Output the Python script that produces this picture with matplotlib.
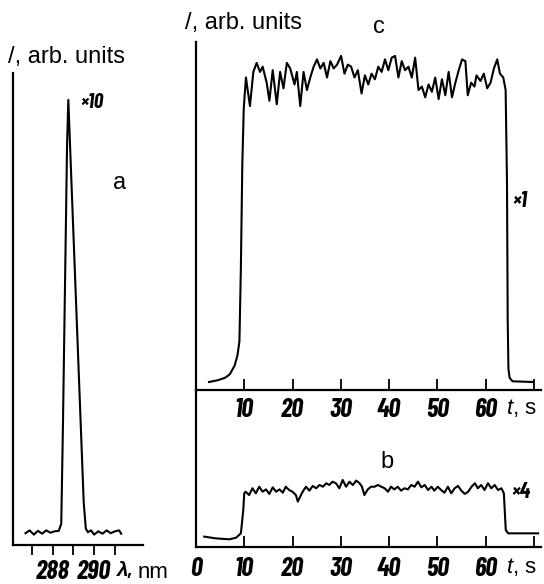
import matplotlib
matplotlib.use("Agg")
import matplotlib.pyplot as plt

plt.rcParams["font.family"] = ["Liberation Sans", "DejaVu Sans"]
plt.rcParams["mathtext.fontset"] = "custom"
plt.rcParams["mathtext.rm"] = "Liberation Sans"
plt.rcParams["mathtext.it"] = "Liberation Sans:italic"

NUM_FONT = ["Barlow Condensed", "Liberation Sans", "DejaVu Sans"]

# (a) emission line, wavelength in nm
lam = [286.7, 286.9, 287.1, 287.3, 287.5, 287.7, 287.9, 288.1, 288.3, 288.42,
       288.5, 288.6, 288.7, 288.76, 288.9, 289.1, 289.3, 289.5, 289.6, 289.7,
       289.85, 290.0, 290.2, 290.4, 290.6, 290.8, 291.0, 291.2, 291.3]
spec = [0.025, 0.031, 0.022, 0.030, 0.024, 0.031, 0.026, 0.029, 0.030, 0.045,
        0.25, 0.55, 0.85, 0.943, 0.78, 0.55, 0.32, 0.09, 0.035, 0.027,
        0.031, 0.022, 0.029, 0.024, 0.031, 0.025, 0.029, 0.031, 0.024]

# (c) time trace, x1
t_c = [2.7, 4.5, 6.0, 7.0, 8.0, 8.6, 9.0, 9.3, 9.6, 9.9,
       10.35, 11.18, 11.88, 12.57, 13.27, 13.82, 14.65, 15.21, 15.90, 16.74,
       17.43, 18.13, 18.82, 19.52, 20.42, 20.90, 21.60, 22.29, 22.99, 23.68,
       24.38, 25.07, 25.77, 26.46, 27.15, 27.85, 28.54, 29.24, 30.07, 30.77,
       31.46, 32.15, 32.85, 33.54, 34.31, 35.00, 35.70, 36.39, 37.08, 37.78,
       38.47, 39.17, 39.86, 40.56, 41.25, 41.95, 42.64, 43.33, 44.03, 44.72,
       45.42, 46.11, 46.81, 47.50, 48.20, 48.89, 49.58, 50.28, 50.97, 51.67,
       52.36, 53.06, 53.75, 54.45, 55.14, 55.83, 56.32, 57.02, 57.71, 58.13,
       58.96, 59.65, 60.35, 61.04, 61.74, 62.43, 62.99, 63.68, 64.17,
       64.45, 64.6, 64.75, 65.0, 65.6, 69.8]
i_c = [0.023, 0.028, 0.035, 0.045, 0.07, 0.10, 0.14, 0.35, 0.65, 0.81,
       0.898, 0.816, 0.914, 0.940, 0.914, 0.929, 0.883, 0.831, 0.919, 0.821,
       0.914, 0.867, 0.940, 0.924, 0.878, 0.914, 0.816, 0.914, 0.862, 0.898,
       0.929, 0.950, 0.924, 0.940, 0.898, 0.945, 0.924, 0.935, 0.960, 0.909,
       0.935, 0.929, 0.898, 0.919, 0.852, 0.904, 0.878, 0.909, 0.893, 0.929,
       0.914, 0.950, 0.919, 0.955, 0.960, 0.898, 0.945, 0.919, 0.929, 0.898,
       0.955, 0.862, 0.872, 0.841, 0.878, 0.857, 0.898, 0.836, 0.893, 0.847,
       0.914, 0.841, 0.883, 0.919, 0.950, 0.945, 0.847, 0.883, 0.872, 0.904,
       0.888, 0.909, 0.867, 0.883, 0.924, 0.950, 0.909, 0.898, 0.862,
       0.60, 0.20, 0.06, 0.035, 0.025, 0.023]

# (b) time trace, x4
t_b = [1.7, 4.1, 6.9, 8.3, 9.3, 9.8, 10.0,
       10.3, 11.0, 11.7, 12.4, 13.1, 13.8, 14.5, 15.2, 15.9, 16.6, 17.3, 18.0,
       18.6, 19.3, 20.0, 20.7, 21.1, 21.6, 22.1, 22.8, 23.5, 24.2, 24.9, 25.6,
       26.3, 27.0, 27.6, 28.3, 29.0, 29.7, 30.4, 31.1, 31.8, 32.5, 33.2, 33.9,
       34.4, 34.9, 35.6, 36.3, 37.0, 37.7, 38.4, 39.1, 39.8, 40.4, 41.1, 41.8,
       42.5, 43.2, 43.9, 44.6, 45.3, 46.0, 46.7, 47.4, 48.1, 48.8, 49.4, 50.1,
       50.8, 51.5, 52.2, 52.9, 53.6, 54.3, 55.0, 55.7, 56.4, 57.1, 57.8, 58.4,
       59.1, 59.8, 60.5, 61.2, 61.9, 62.6, 63.3, 63.8, 64.2, 64.7, 65.7, 70.9]
i_b = [0.066, 0.055, 0.049, 0.059, 0.087, 0.236, 0.342,
       0.352, 0.331, 0.374, 0.342, 0.384, 0.352, 0.367, 0.338, 0.380, 0.352, 0.367, 0.346,
       0.384, 0.363, 0.352, 0.331, 0.289, 0.321, 0.352, 0.384, 0.359, 0.389, 0.374, 0.395,
       0.384, 0.406, 0.395, 0.416, 0.406, 0.374, 0.427, 0.384, 0.416, 0.395, 0.423, 0.406,
       0.384, 0.331, 0.367, 0.384, 0.384, 0.395, 0.384, 0.374, 0.352, 0.384, 0.367, 0.384,
       0.359, 0.374, 0.367, 0.395, 0.384, 0.416, 0.380, 0.395, 0.363, 0.384, 0.359, 0.384,
       0.363, 0.346, 0.384, 0.342, 0.374, 0.389, 0.359, 0.338, 0.352, 0.384, 0.406, 0.374,
       0.395, 0.363, 0.406, 0.374, 0.395, 0.363, 0.374, 0.342, 0.108, 0.087, 0.087, 0.087]

lam_ticks = [287, 288, 289, 290, 291]
lam_labels = ["", "288", "", "290", ""]
t_ticks = [0, 10, 20, 30, 40, 50, 60, 70]
t_labels_b = ["0", "10", "20", "30", "40", "50", "60", ""]
t_labels_c = ["", "10", "20", "30", "40", "50", "60", ""]

W, H = 544, 584
fig = plt.figure(figsize=(W / 100, H / 100), dpi=100)


def box(x0, y0, x1, y1):
    return [x0 / W, 1 - y1 / H, (x1 - x0) / W, (y1 - y0) / H]


def style(ax, direction, length, pad):
    ax.patch.set_visible(False)
    for s in ("top", "right"):
        ax.spines[s].set_visible(False)
    for s in ("left", "bottom"):
        ax.spines[s].set_linewidth(1.6)
    ax.set_yticks([])
    ax.tick_params(axis="x", direction=direction, length=length, width=1.3, pad=pad)
    for lbl in ax.get_xticklabels():
        lbl.set_family(NUM_FONT)
        lbl.set_weight("bold")
        lbl.set_style("italic")
        lbl.set_fontsize(19)


ax_a = fig.add_axes(box(13, 73, 143, 545))
ax_c = fig.add_axes(box(196, 42, 541, 390))
ax_b = fig.add_axes(box(196, 390, 541, 547))

ax_a.plot(lam, spec, color="black", lw=1.5)
ax_a.set_xlim(286.1, 292.35)
ax_a.set_ylim(0, 1)
ax_a.set_xticks(lam_ticks, lam_labels)
style(ax_a, "out", 7.5, 3)

ax_c.plot(t_c, i_c, color="black", lw=1.5)
ax_c.set_xlim(0, 71.5)
ax_c.set_ylim(0, 1)
ax_c.set_xticks(t_ticks, t_labels_c)
style(ax_c, "in", 8, 6)

ax_b.plot(t_b, i_b, color="black", lw=1.5)
ax_b.set_xlim(0, 71.5)
ax_b.set_ylim(0, 1)
ax_b.set_xticks(t_ticks, t_labels_b)
style(ax_b, "in", 8, 7)


def ftext(x, y, s, **kw):
    fig.text(x / W, 1 - y / H, s, **kw)


num = dict(family=NUM_FONT, weight="bold", style="italic")
ftext(8, 57, "/, arb. units", fontsize=17, va="center", ha="left")
ftext(185, 23, "/, arb. units", fontsize=17, va="center", ha="left")
ftext(120, 183, "a", fontsize=17, va="center", ha="center")
ftext(379, 27, "c", fontsize=17, va="center", ha="center")
ftext(387, 462, "b", fontsize=17, va="center", ha="center")
ftext(80, 103, "×10", fontsize=15, va="center", ha="left", **num)
ftext(512, 201, "×1", fontsize=16, va="center", ha="left", **num)
ftext(511, 492, "×4", fontsize=16, va="center", ha="left", **num)
ftext(117, 571, "λ,", fontsize=15, va="center", ha="left", **num)
ftext(138, 572, "nm", fontsize=16, va="center", ha="left")
ftext(506, 408, "$t$, s", fontsize=16, va="center", ha="left")
ftext(506, 567, "$t$, s", fontsize=16, va="center", ha="left")

fig.savefig("out.png", dpi=100)
